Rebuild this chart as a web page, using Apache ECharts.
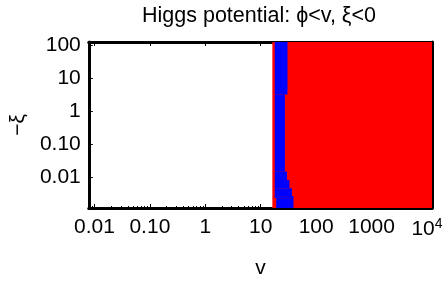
<!DOCTYPE html>
<html><head><meta charset="utf-8">
<script src="https://cdn.jsdelivr.net/npm/echarts@6/dist/echarts.min.js"></script>
<style>html,body{margin:0;padding:0;background:#fff}#c{width:447px;height:284px}</style>
</head><body><div id="c"></div>
<script>
// axis ranges
const vMin = 0.0079, vMax = 12300;
const xiMin = 0.00113, xiMax = 127;
// tick labels
const xTickValues = [0.01, 0.1, 1, 10, 100, 1000, 10000];
const xTickLabels = ['0.01', '0.10', '1', '10', '100', '1000', '{b|10}{s|4}'];
const yTickValues = [0.01, 0.1, 1, 10, 100];
const yTickLabels = ['0.01', '0.10', '1', '10', '100'];
// red region: starts at this v, extends to the right edge
const redStartV = [16.2];
// blue bands (each: xi range, v range)
const bandXiTop    = [127, 3.2,   0.0146, 0.008, 0.0045, 0.0026, 0.00225];
const bandXiBottom = [3.2, 0.0146, 0.008, 0.0045, 0.0026, 0.00225, 0.00113];
const blueLeftV    = [17.9, 17.9, 17.9, 17.9, 17.9, 17.9, 19.0];
const blueRightV   = [30.4, 27.3, 29.7, 33.0, 36.5, 39.0, 39.0];

const redData = redStartV.map(v => [v, vMax, xiMin, xiMax]);
const blueData = blueLeftV.map((l, i) => [l, blueRightV[i], bandXiBottom[i], bandXiTop[i]]);

function rectItem(color) {
  return function (params, api) {
    const p1 = api.coord([api.value(0), api.value(3)]);
    const p2 = api.coord([api.value(1), api.value(2)]);
    return {
      type: 'rect',
      shape: { x: p1[0], y: p1[1], width: p2[0] - p1[0], height: p2[1] - p1[1] },
      style: { fill: color, stroke: null }
    };
  };
}
function fmt(values, labels) {
  return function (val) {
    for (let i = 0; i < values.length; i++) {
      if (Math.abs(Math.log10(val) - Math.log10(values[i])) < 1e-6) return labels[i];
    }
    return '';
  };
}
const FONT = 'Liberation Sans, Arial, Helvetica, sans-serif';
const lineStyle = { color: '#000', width: 3 };
const chart = echarts.init(document.getElementById('c'), null, { renderer: 'canvas' });
chart.setOption({
  animation: false,
  backgroundColor: '#fff',
  title: {
    text: 'Higgs potential: \u03D5<v, \u03BE<0',
    left: 254, top: 0, textAlign: 'center',
    textStyle: { fontFamily: FONT, fontSize: 21.5, fontWeight: 'normal', color: '#000' }
  },
  grid: { left: 88, right: 15, top: 42, bottom: 74 },
  xAxis: [{
    type: 'log', logBase: 10, min: vMin, max: vMax, position: 'bottom',
    name: 'v', nameLocation: 'middle', nameGap: 50,
    nameTextStyle: { fontFamily: FONT, fontSize: 21, color: '#000' },
    axisLine: { show: true, lineStyle: lineStyle },
    axisTick: { show: true, inside: true, length: 4, lineStyle: { color: '#000', width: 1 } },
    minorTick: { show: true, splitNumber: 9, length: 2, lineStyle: { color: '#000', width: 1 } },
    splitLine: { show: false },
    axisLabel: {
      margin: 9, color: '#000', fontFamily: FONT, fontSize: 21,
      formatter: fmt(xTickValues, xTickLabels),
      rich: {
        b: { fontFamily: FONT, fontSize: 21, color: '#000' },
        s: { fontFamily: FONT, fontSize: 14, color: '#000', verticalAlign: 'bottom', padding: [0, 0, 11, 0] }
      }
    }
  }, {
    type: 'log', logBase: 10, min: vMin, max: vMax, position: 'top',
    axisLine: { show: true, lineStyle: lineStyle },
    axisTick: { show: true, inside: true, length: 4, lineStyle: { color: '#000', width: 1 } },
    minorTick: { show: true, splitNumber: 9, length: 2, lineStyle: { color: '#000', width: 1 } },
    splitLine: { show: false },
    axisLabel: { show: false }
  }],
  yAxis: [{
    type: 'log', logBase: 10, min: xiMin, max: xiMax, position: 'left',
    name: '\u2212\u03BE', nameLocation: 'middle', nameGap: 57, nameRotate: 90,
    nameTextStyle: { fontFamily: FONT, fontSize: 21, color: '#000' },
    axisLine: { show: true, lineStyle: lineStyle },
    axisTick: { show: true, inside: true, length: 4, lineStyle: { color: '#000', width: 1 } },
    minorTick: { show: true, splitNumber: 9, length: 2, lineStyle: { color: '#000', width: 1 } },
    splitLine: { show: false },
    axisLabel: { margin: 8, color: '#000', fontFamily: FONT, fontSize: 21, formatter: fmt(yTickValues, yTickLabels) }
  }, {
    type: 'log', logBase: 10, min: xiMin, max: xiMax, position: 'right',
    axisLine: { show: true, lineStyle: lineStyle },
    axisTick: { show: true, inside: true, length: 4, lineStyle: { color: '#000', width: 1 } },
    minorTick: { show: true, splitNumber: 9, length: 2, lineStyle: { color: '#000', width: 1 } },
    splitLine: { show: false },
    axisLabel: { show: false }
  }],
  series: [{
    type: 'custom', xAxisIndex: 0, yAxisIndex: 0, clip: true, z: 1,
    renderItem: rectItem('#ff0000'),
    encode: { x: [0, 1], y: [2, 3] },
    data: redData
  }, {
    type: 'custom', xAxisIndex: 0, yAxisIndex: 0, clip: true, z: 2,
    renderItem: rectItem('#0000ff'),
    encode: { x: [0, 1], y: [2, 3] },
    data: blueData
  }]
});
</script></body></html>
